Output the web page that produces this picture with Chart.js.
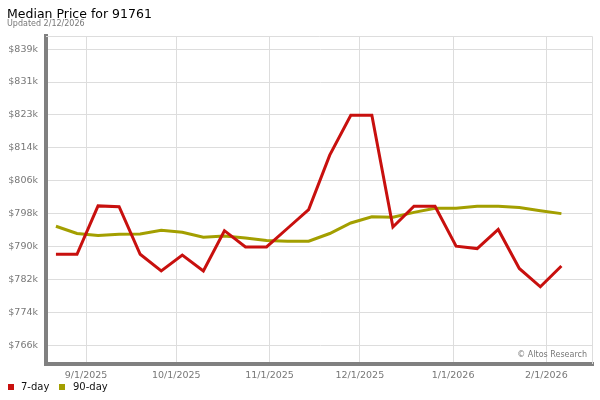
<!DOCTYPE html>
<html>
<head>
<meta charset="utf-8">
<script src="https://cdn.jsdelivr.net/npm/chart.js@4.4.1/dist/chart.umd.min.js"></script>
<style>
    body { margin: 0; background: #fff; font-family: 'DejaVu Sans', sans-serif; }
    #wrap { position: relative; width: 600px; height: 400px; }
    #mychart { position: absolute; left: 0; top: 0; }
    .txt { position: absolute; white-space: nowrap; }
    #title { left: 7px; top: 7px; font-size: 12.5px; line-height: 13px; color: #000; }
    #subtitle { left: 7px; top: 20px; font-size: 8px; line-height: 8px; color: #777; }
    #credit { right: 13px; top: 351px; font-size: 8px; line-height: 8px; color: #777; }
    .box { position: absolute; width: 6px; height: 6px; top: 384px; }
    .lbl { top: 381px; font-size: 10px; line-height: 12px; color: #111; }
</style>
</head>
<body>
<div id="wrap">
    <canvas id="mychart" width="600" height="400"></canvas>
    <div class="txt" id="title">Median Price for 91761</div>
    <div class="txt" id="subtitle">Updated 2/12/2026</div>
    <div class="txt" id="credit">© Altos Research</div>
    <div class="box" style="left:8px;background:#c8100e"></div>
    <div class="txt lbl" style="left:21px">7-day</div>
    <div class="box" style="left:59px;background:#a39f00"></div>
    <div class="txt lbl" style="left:73px">90-day</div>
</div>
<script>
// weekly data points
const dates = ['2025-08-22','2025-08-29','2025-09-05','2025-09-12','2025-09-19','2025-09-26',
    '2025-10-03','2025-10-10','2025-10-17','2025-10-24','2025-10-31','2025-11-07','2025-11-14',
    '2025-11-21','2025-11-28','2025-12-05','2025-12-12','2025-12-19','2025-12-26','2026-01-02',
    '2026-01-09','2026-01-16','2026-01-23','2026-01-30','2026-02-06']
const sevenDay = [788300, 788300, 800200, 800000, 788300, 784200, 788100, 784200, 794100, 790100,
    790100, 794700, 799300, 812700, 822500, 822500, 795000, 800100, 800100, 790300,
    789700, 794400, 784800, 780300, 785400]
const ninetyDay = [795200, 793400, 792900, 793200, 793300, 794200, 793700, 792500, 792800, 792300,
    791700, 791500, 791500, 793400, 796000, 797500, 797400, 798600, 799600, 799600,
    800100, 800100, 799800, 799000, 798300]

const xTickDates = ['2025-09-01','2025-10-01','2025-11-01','2025-12-01','2026-01-01','2026-02-01']
const xTickLabels = ['9/1/2025','10/1/2025','11/1/2025','12/1/2025','1/1/2026','2/1/2026']
const yTickValues = [765800, 773910, 782020, 790130, 798240, 806350, 814460, 822570, 830680, 838790]

function dayNum(s){
    let p = s.split('-')
    return Date.UTC(+p[0], +p[1] - 1, +p[2]) / 86400000
}

function points(values){
    return dates.map(function(d, i){ return { x: dayNum(d), y: values[i] } })
}

const tickFont = { family: "'DejaVu Sans', sans-serif", size: 9.5 }

// light frame on top and right of the plot
const framePlugin = {
    id: 'frame',
    beforeDatasetsDraw(chart){
        const a = chart.chartArea
        const ctx = chart.ctx
        ctx.save()
        ctx.strokeStyle = '#dddddd'
        ctx.lineWidth = 1
        ctx.beginPath()
        ctx.moveTo(a.left, a.top + 0.5)
        ctx.lineTo(a.right - 0.5, a.top + 0.5)
        ctx.lineTo(a.right - 0.5, a.bottom)
        ctx.stroke()
        ctx.restore()
    }
}

new Chart(document.getElementById('mychart'), {
    type: 'line',
    data: {
        datasets: [{
            label: '7-day',
            data: points(sevenDay),
            borderColor: '#c8100e',
            borderWidth: 3,
            pointRadius: 0,
            tension: 0
        }, {
            label: '90-day',
            data: points(ninetyDay),
            borderColor: '#a39f00',
            borderWidth: 3,
            pointRadius: 0,
            tension: 0
        }]
    },
    options: {
        responsive: false,
        animation: false,
        layout: { padding: { left: 0, right: 7, top: 36, bottom: 0 } },
        plugins: {
            legend: { display: false },
            title: { display: false },
            tooltip: { enabled: false }
        },
        scales: {
            x: {
                type: 'linear',
                min: dayNum('2025-08-22') - 3.3,
                max: dayNum('2026-02-06') + 10.5,
                afterBuildTicks: function(axis){
                    axis.ticks = xTickDates.map(function(d){ return { value: dayNum(d) } })
                },
                afterFit: function(axis){ axis.height = 36 },
                ticks: {
                    autoSkip: false,
                    maxRotation: 0,
                    padding: 6,
                    color: '#777',
                    font: tickFont,
                    callback: function(v, i){ return xTickLabels[i] }
                },
                grid: { color: '#dddddd', drawTicks: false },
                border: { color: '#808080', width: 4 }
            },
            y: {
                min: 761300,
                max: 842000,
                afterBuildTicks: function(axis){
                    axis.ticks = yTickValues.map(function(v){ return { value: v } })
                },
                afterFit: function(axis){ axis.width = 46 },
                ticks: {
                    padding: 8,
                    color: '#777',
                    font: tickFont,
                    callback: function(v){ return '$' + Math.round(v / 1000) + 'k' }
                },
                grid: { color: '#dddddd', drawTicks: false },
                border: { color: '#808080', width: 4 }
            }
        }
    },
    plugins: [framePlugin]
})
</script>
</body>
</html>
